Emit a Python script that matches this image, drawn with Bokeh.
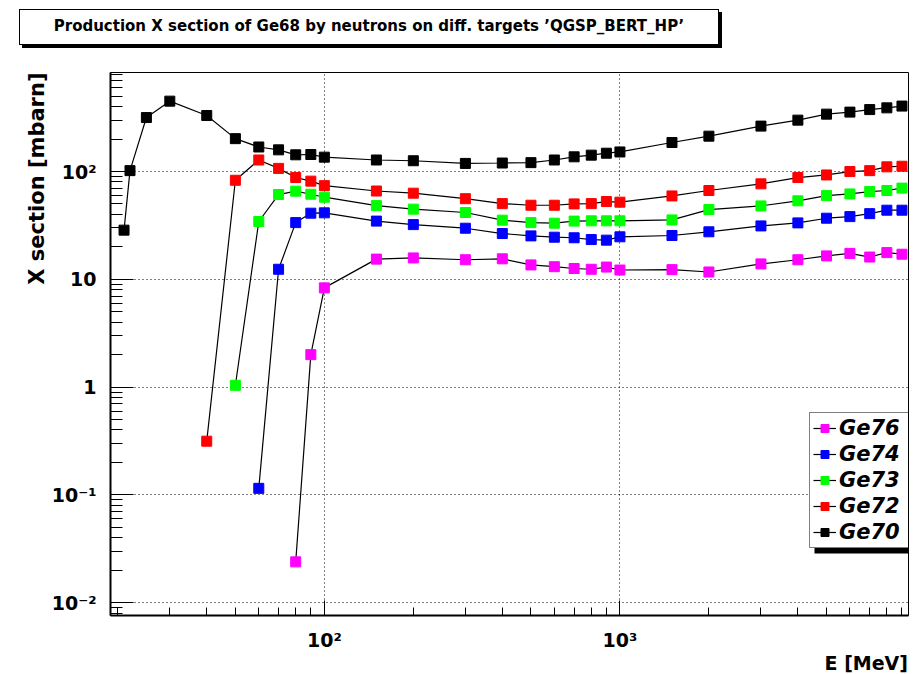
from bokeh.embed import file_html
from bokeh.layouts import column
from bokeh.models import (BoxAnnotation, Div, FixedTicker, Legend, LegendItem,
                          Range1d, Title)
from bokeh.plotting import figure
from bokeh.resources import INLINE

# Neutron energies [MeV] at which the Ge68 production was evaluated
energy = [21, 22, 25, 30, 40, 50, 60, 70, 80, 90, 100, 150, 200, 300, 400,
          500, 600, 700, 800, 900, 1000, 1500, 2000, 3000, 4000, 5000, 6000,
          7000, 8000, 9000]

# Production cross sections [mbarn] per target isotope
ge70 = [28.6, 102, 317, 450, 331, 202, 169, 159, 143, 144, 136, 128, 126,
        119, 120, 121, 128, 137, 142, 148, 152, 186, 213, 264, 300, 341, 356,
        376, 390, 405]
ge72 = [0.315, 83, 128, 107, 88, 81.5, 74, 66, 63, 56, 50.4, 48.7, 48.7,
        50.1, 50.4, 52.7, 52, 59.4, 66.7, 76.9, 88, 93, 100, 102, 110.6, 112]
ge73 = [1.04, 34.4, 61.2, 65.8, 61.6, 57.8, 48.3, 44.8, 41.7, 35.4, 33.6,
        33.2, 34.7, 34.9, 34.9, 34.9, 35.6, 44.4, 48, 53.5, 59.8, 62, 65.2,
        66.7, 70.2]
ge74 = [0.115, 12.4, 33.6, 41.1, 41.4, 34.7, 32.2, 29.8, 26.6, 25.3, 24.6,
        24.3, 23.4, 23.1, 24.8, 25.5, 27.6, 31.3, 33.4, 36.9, 38.2, 40.7, 43.8,
        43.8]
ge76 = [0.0239, 2.0, 8.33, 15.4, 15.8, 15.2, 15.5, 13.6, 13.1, 12.6, 12.4,
        13.0, 12.2, 12.3, 11.7, 13.9, 15.2, 16.5, 17.4, 16.1, 17.7, 17.1]

series_names = ["Ge76", "Ge74", "Ge73", "Ge72", "Ge70"]
series_values = [ge76, ge74, ge73, ge72, ge70]
series_colors = ["#ff00ff", "#0000ff", "#00ff00", "#ff0000", "#000000"]

# Axis ticks and labels
x_major = [100, 1000]
x_major_labels = ["10\u00b2", "10\u00b3"]
y_major = [0.01, 0.1, 1, 10, 100]
y_major_labels = ["10\u207b\u00b2", "10\u207b\u00b9", "1", "10", "10\u00b2"]

TITLE = ("Production X section of Ge68 by neutrons on diff. targets "
         "\u2019QGSP_BERT_HP\u2019")
X_TITLE = "E [MeV]"
Y_TITLE = "X section [mbarn]"
FONT = "DejaVu Sans"
HEADER_H = 60
FOOTER_H = 21

# framed title with a drop shadow, sitting above the plot
header = Div(
    width=923, height=HEADER_H, margin=0,
    text=(f'<div style="box-sizing:border-box;margin:9px 0 0 19px;'
          f'width:700px;height:36px;border:1px solid black;'
          f'box-shadow:3px 3px 0 black;background:white;'
          f'font-family:\'{FONT}\';font-weight:bold;font-size:15px;'
          f'color:black;display:flex;align-items:center;'
          f'justify-content:center;white-space:nowrap;">{TITLE}</div>'))

# x-axis title, right-aligned with the end of the axis
footer = Div(
    width=923, height=FOOTER_H, margin=0,
    text=(f'<div style="box-sizing:border-box;width:923px;height:19px;'
          f'margin-top:1px;padding-right:15px;text-align:right;'
          f'font-family:\'{FONT}\';font-weight:bold;font-size:19px;'
          f'line-height:19px;color:black;white-space:nowrap;">'
          f'{X_TITLE}</div>'))

p = figure(width=923, height=674 - HEADER_H - FOOTER_H, x_axis_type="log",
           y_axis_type="log",
           x_range=Range1d(18.9, 9470), y_range=Range1d(0.0076, 830),
           output_backend="svg", toolbar_location=None, title=None,
           margin=0)
p.min_border_left = 110
p.min_border_right = 15
p.min_border_top = 72 - HEADER_H
p.min_border_bottom = 0
p.background_fill_color = "white"
p.border_fill_color = "white"
p.outline_line_color = "black"
p.outline_line_width = 1

# decade ticks with 2..9 sub-ticks
x_minor = [m * 10 ** k for k in range(1, 4) for m in range(2, 10)]
y_minor = [m * 10.0 ** k for k in range(-3, 3) for m in range(2, 10)]

p.xaxis.ticker = FixedTicker(ticks=x_major, minor_ticks=x_minor)
p.yaxis.ticker = FixedTicker(ticks=y_major, minor_ticks=y_minor)
p.xaxis.major_label_overrides = dict(zip(x_major, x_major_labels))
p.yaxis.major_label_overrides = dict(zip(y_major, y_major_labels))

for ax in (p.xaxis[0], p.yaxis[0]):
    ax.axis_line_width = 2
    ax.axis_line_color = "black"
    ax.major_tick_out = 0
    ax.minor_tick_out = 0
    ax.major_tick_line_color = "black"
    ax.minor_tick_line_color = "black"
    ax.major_label_text_font = FONT
    ax.major_label_text_font_style = "bold"
    ax.major_label_text_font_size = "19px"
    ax.major_label_text_color = "black"

p.xaxis.major_tick_in = 15
p.xaxis.minor_tick_in = 8
p.xaxis.major_label_standoff = 13
p.yaxis.major_tick_in = 23
p.yaxis.minor_tick_in = 12
p.yaxis.major_label_standoff = 14

p.xgrid.ticker = FixedTicker(ticks=x_major)
p.ygrid.ticker = FixedTicker(ticks=y_major)
for g in (p.xgrid[0], p.ygrid[0]):
    g.grid_line_color = "black"
    g.grid_line_dash = "1 3"
    g.grid_line_width = 1

items = []
for name, ys, col in zip(series_names, series_values, series_colors):
    xs = energy[len(energy) - len(ys):]
    ln = p.line(xs, ys, line_color="black", line_width=1.2)
    sq = p.scatter(xs, ys, marker="square", size=10, fill_color=col,
                   line_color=col)
    items.append(LegendItem(label=name, renderers=[ln, sq]))

# legend with a drop shadow
p.add_layout(BoxAnnotation(left=704, right=803, bottom=62, top=197,
                           left_units="screen", right_units="screen",
                           bottom_units="screen", top_units="screen",
                           fill_color="black", fill_alpha=1,
                           line_color=None, level="overlay"))
legend = Legend(items=items, location=(699, 67), margin=0, padding=3,
                spacing=2, label_height=20, glyph_height=20, glyph_width=23,
                label_standoff=3, label_width=67,
                label_text_font=FONT, label_text_font_style="bold italic",
                label_text_font_size="21px", label_text_color="black",
                border_line_color="black",
                border_line_width=1, background_fill_alpha=1,
                background_fill_color="white")
p.add_layout(legend, "center")

# y-axis title, flush with the top end of the axis
p.add_layout(Title(text=Y_TITLE, align="right", standoff=0,
                   text_font=FONT, text_font_style="bold",
                   text_font_size="21px", text_color="black"), "left")

layout = column(header, p, footer, spacing=0, margin=0)
open("out.html", "w").write(file_html(layout, INLINE))
